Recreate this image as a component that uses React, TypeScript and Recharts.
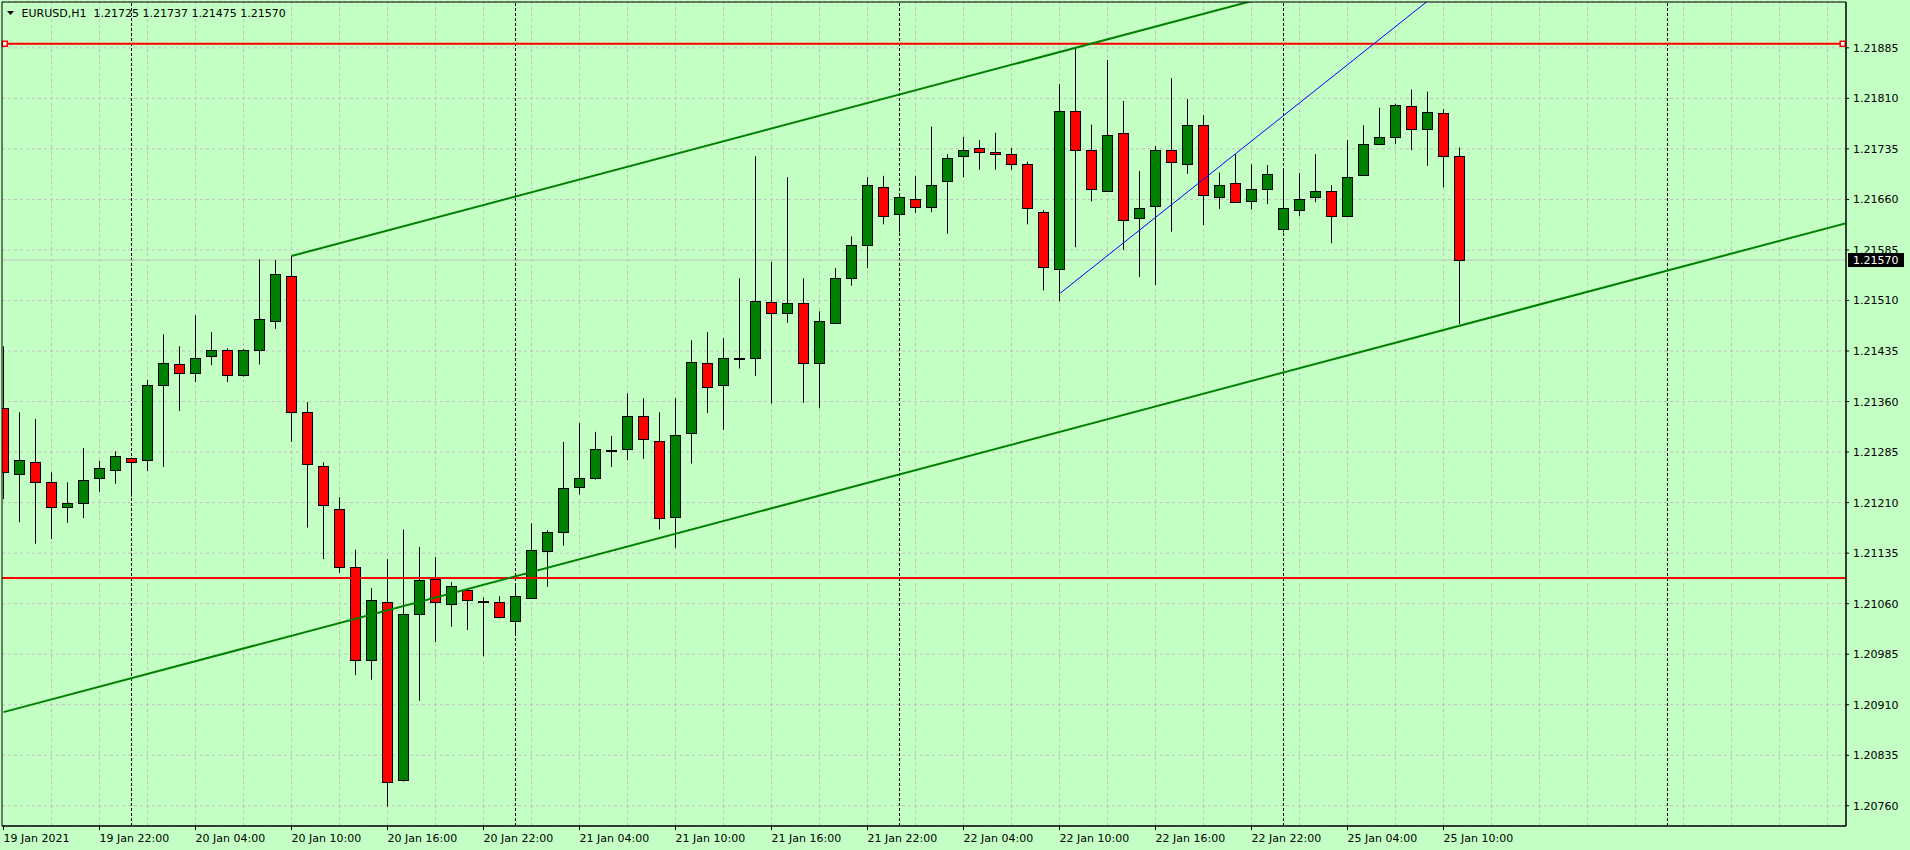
import React from "react";
import {
  ComposedChart,
  Bar,
  XAxis,
  YAxis,
  CartesianGrid,
  ReferenceLine,
  ReferenceArea,
  ReferenceDot,
} from "recharts";

// EURUSD H1, one entry per hourly bar, bar 0 = 19 Jan 16:00
const OPEN = [
  1.2135, 1.21253, 1.2127, 1.21241, 1.21204, 1.21209, 1.21246, 1.21259, 1.21276, 1.21273,
  1.21385, 1.21415, 1.21402, 1.21428, 1.21436, 1.21399, 1.21436, 1.2148, 1.21547, 1.21344,
  1.21264, 1.21201, 1.21114, 1.20976, 1.21062, 1.20798, 1.21045, 1.21096, 1.2106, 1.21081,
  1.21064, 1.21063, 1.21034, 1.21069, 1.21138, 1.21167, 1.21233, 1.21246, 1.21288, 1.2129,
  1.21338, 1.21301, 1.21188, 1.21313, 1.21417, 1.21384, 1.21425, 1.21425, 1.21507, 1.21492,
  1.21506, 1.21417, 1.21477, 1.21544, 1.21592, 1.21679, 1.21638, 1.21661, 1.21648, 1.21687,
  1.21724, 1.21736, 1.2173, 1.21728, 1.21713, 1.21642, 1.21556, 1.21791, 1.21733, 1.21673,
  1.21758, 1.21632, 1.2165, 1.21734, 1.21713, 1.2177, 1.21664, 1.21684, 1.21657, 1.21675,
  1.21616, 1.21644, 1.21664, 1.21672, 1.21636, 1.21696, 1.21742, 1.21753, 1.21798, 1.21765,
  1.21788, 1.21725,
];
const HIGH = [
  1.21442, 1.21344, 1.21334, 1.21255, 1.2124, 1.21291, 1.21272, 1.21286, 1.21277, 1.21392,
  1.2146, 1.21442, 1.21488, 1.21463, 1.21439, 1.21438, 1.21571, 1.2157, 1.21576, 1.21359,
  1.2127, 1.21218, 1.2114, 1.21083, 1.21126, 1.2117, 1.21144, 1.21129, 1.21092, 1.21083,
  1.21069, 1.21071, 1.21089, 1.21179, 1.21169, 1.213, 1.21328, 1.21315, 1.21309, 1.21372,
  1.21365, 1.21344, 1.21365, 1.21451, 1.21463, 1.21454, 1.21543, 1.21724, 1.21567, 1.21693,
  1.21543, 1.21494, 1.21558, 1.21605, 1.21693, 1.21695, 1.21669, 1.21695, 1.21768, 1.21727,
  1.21753, 1.21748, 1.21759, 1.21736, 1.21716, 1.21644, 1.21831, 1.21886, 1.21771, 1.21867,
  1.21806, 1.21702, 1.21739, 1.2184, 1.21809, 1.21785, 1.217, 1.21727, 1.21712, 1.21711,
  1.21704, 1.21699, 1.21727, 1.21681, 1.21748, 1.2177, 1.21796, 1.21802, 1.21823, 1.2182,
  1.21794, 1.21737,
];
const LOW = [
  1.21215, 1.21181, 1.21149, 1.21156, 1.2118, 1.21187, 1.21226, 1.21238, 1.21219, 1.21257,
  1.21263, 1.21346, 1.21389, 1.21414, 1.21389, 1.21397, 1.21415, 1.21468, 1.213, 1.21173,
  1.21126, 1.21106, 1.20954, 1.20947, 1.20759, 1.20796, 1.20916, 1.21003, 1.21026, 1.21021,
  1.20982, 1.21038, 1.21014, 1.21067, 1.21085, 1.21146, 1.21222, 1.21244, 1.21263, 1.21273,
  1.21275, 1.2117, 1.21143, 1.21268, 1.21343, 1.21318, 1.21409, 1.21398, 1.21357, 1.21477,
  1.21358, 1.2135, 1.21475, 1.21532, 1.21558, 1.21623, 1.21611, 1.2164, 1.21641, 1.21609,
  1.21693, 1.21704, 1.21704, 1.21704, 1.21623, 1.21525, 1.21509, 1.21589, 1.21657, 1.21672,
  1.21585, 1.21545, 1.21533, 1.21612, 1.21698, 1.21622, 1.21646, 1.21655, 1.21645, 1.21653,
  1.21611, 1.21635, 1.21656, 1.21595, 1.21635, 1.21695, 1.21741, 1.21742, 1.21733, 1.2171,
  1.21678, 1.21475,
];
const CLOSE = [
  1.21255, 1.21273, 1.2124, 1.21204, 1.2121, 1.21244, 1.21261, 1.21279, 1.2127, 1.21385,
  1.21417, 1.21402, 1.21425, 1.21437, 1.21399, 1.21436, 1.21482, 1.21549, 1.21344, 1.21267,
  1.21206, 1.21115, 1.20976, 1.21065, 1.20796, 1.21045, 1.21095, 1.21062, 1.21086, 1.21065,
  1.21064, 1.2104, 1.21071, 1.21139, 1.21167, 1.21231, 1.21246, 1.2129, 1.21288, 1.21338,
  1.21304, 1.21187, 1.21311, 1.21418, 1.21382, 1.21425, 1.21425, 1.21509, 1.21492, 1.21506,
  1.21417, 1.2148, 1.21544, 1.21592, 1.21681, 1.21635, 1.21664, 1.21648, 1.21682, 1.21722,
  1.21734, 1.2173, 1.21727, 1.21713, 1.21647, 1.21559, 1.21791, 1.21733, 1.21675, 1.21755,
  1.2163, 1.21647, 1.21733, 1.21715, 1.2177, 1.21666, 1.21682, 1.21656, 1.21675, 1.21697,
  1.21647, 1.21661, 1.21672, 1.21635, 1.21694, 1.21742, 1.21753, 1.218, 1.21764, 1.21789,
  1.21724, 1.2157,
];

// bar index of each time label (every 6 hours)
const LABEL_BARS = [0, 6, 12, 18, 24, 30, 36, 42, 48, 54, 60, 66, 72, 78, 84, 90];
const TIME_LABELS = [
  "19 Jan 2021", "19 Jan 22:00", "20 Jan 04:00", "20 Jan 10:00", "20 Jan 16:00", "20 Jan 22:00",
  "21 Jan 04:00", "21 Jan 10:00", "21 Jan 16:00", "21 Jan 22:00", "22 Jan 04:00", "22 Jan 10:00",
  "22 Jan 16:00", "22 Jan 22:00", "25 Jan 04:00", "25 Jan 10:00",
];
const PRICE_TICKS = [
  1.2076, 1.20835, 1.2091, 1.20985, 1.2106, 1.21135, 1.2121, 1.21285,
  1.2136, 1.21435, 1.2151, 1.21585, 1.2166, 1.21735, 1.2181, 1.21885,
];
const GRID_BARS = [
  3, 6, 9, 12, 15, 18, 21, 24, 27, 30, 33, 36, 39, 42, 45, 48, 51, 54, 57,
  60, 63, 66, 69, 72, 75, 78, 81, 84, 87, 90, 93, 96, 99, 102, 105, 108, 111, 114,
];
// midnight bars (period separators)
const DAY_BARS = [8, 32, 56, 80, 104];

const TITLE = "EURUSD,H1  1.21725 1.21737 1.21475 1.21570";
const LAST_PRICE = 1.2157;
const RESISTANCE = 1.21891;
const SUPPORT = 1.21098;
const CHANNEL_LOW = [{ x: 0, y: 1.20899 }, { x: 116, y: 1.2163 }];
const CHANNEL_HIGH = [{ x: 18, y: 1.21576 }, { x: 116, y: 1.22194 }];
const BLUE_LINE = [{ x: 66, y: 1.2152 }, { x: 100, y: 1.22162 }];
const HANDLE_BARS = [0.08, 114.95];

const X_MIN = -0.094;
const X_MAX = 115.156;
const Y_MIN = 1.2073;
const Y_MAX = 1.21953;

const BG = "#C4FFC4";
const GRID = "#C0C0C0";
const UP = "#008000";
const DOWN = "#FF0000";
const FONT = "DejaVu Sans";

const candles = OPEN.map((open, k) => ({
  k,
  open,
  high: HIGH[k],
  low: LOW[k],
  close: CLOSE[k],
  range: [LOW[k], HIGH[k]],
}));

function Candle(props: any) {
  const { x, y, width, height, payload } = props;
  if (!payload || x == null || y == null) return null;
  const top = Math.min(y, y + height);
  const h = Math.abs(height);
  const span = payload.high - payload.low;
  const pxPer = span > 0 ? h / span : 0;
  const wx = Math.floor(x + width / 2) + 0.5;
  const bTop = Math.round(top + (payload.high - Math.max(payload.open, payload.close)) * pxPer) + 0.5;
  const bBot = Math.round(top + (payload.high - Math.min(payload.open, payload.close)) * pxPer) + 0.5;
  const up = payload.close > payload.open;
  const doji = payload.close === payload.open;
  return (
    <g>
      <line x1={wx} x2={wx} y1={top} y2={top + h} stroke="#000" strokeWidth={1} />
      <rect
        x={wx - 5}
        y={bTop}
        width={10}
        height={Math.max(bBot - bTop, 1)}
        fill={doji ? "#000" : up ? UP : DOWN}
        stroke="#000"
        strokeWidth={1}
      />
    </g>
  );
}

function TimeTick({ x, y, payload }: any) {
  const i = LABEL_BARS.indexOf(payload.value);
  return (
    <text x={x} y={y} dy={10} fontSize={11} fontFamily={FONT} fill="#000" textAnchor="start">
      {TIME_LABELS[i]}
    </text>
  );
}

function PriceTick({ x, y, payload }: any) {
  return (
    <text x={x + 2} y={y} dy={4} fontSize={11} fontFamily={FONT} fill="#000" textAnchor="start">
      {Number(payload.value).toFixed(5)}
    </text>
  );
}

function PriceTag(props: any) {
  const vb = props.viewBox || {};
  const right = (vb.x || 0) + (vb.width || 0);
  const cy = vb.y || 0;
  return (
    <g>
      <rect x={right + 2} y={cy - 7} width={56} height={14} fill="#000" />
      <text x={right + 7} y={cy + 4} fontSize={11} fontFamily={FONT} fill="#fff">
        {LAST_PRICE.toFixed(5)}
      </text>
    </g>
  );
}

const Handle = (p: any) => (
  <rect x={p.cx - 2.5} y={p.cy - 2.5} width={5} height={5} fill="#fff" stroke={DOWN} strokeWidth={1.5} />
);

export default function App() {
  return (
    <div style={{ position: "absolute", left: 0, top: 0, width: 1910, height: 850, background: BG, fontFamily: FONT }}>
      <ComposedChart width={1910} height={850} data={candles} margin={{ top: 2, right: 0, bottom: 0, left: 2 }}>
        <CartesianGrid vertical={false} stroke={GRID} strokeDasharray="3 3" />
        <XAxis
          dataKey="k"
          type="number"
          domain={[X_MIN, X_MAX]}
          allowDataOverflow
          ticks={LABEL_BARS}
          interval={0}
          tick={<TimeTick />}
          tickSize={4}
          height={24}
          axisLine={{ stroke: "#000" }}
          tickLine={{ stroke: "#000" }}
        />
        <YAxis
          orientation="right"
          type="number"
          domain={[Y_MIN, Y_MAX]}
          allowDataOverflow
          ticks={PRICE_TICKS}
          interval={0}
          tick={<PriceTick />}
          tickSize={3}
          width={64}
          axisLine={{ stroke: "#000" }}
          tickLine={{ stroke: "#000" }}
        />
        {GRID_BARS.map((k) => (
          <ReferenceLine key={"g" + k} x={k} stroke={GRID} strokeDasharray="3 3" zIndex={-60} />
        ))}
        {DAY_BARS.map((k) => (
          <ReferenceLine key={"d" + k} x={k} stroke="#000" strokeDasharray="3 2" zIndex={-50} />
        ))}
        <ReferenceLine y={LAST_PRICE} stroke="#C0C0C0" zIndex={-40} label={<PriceTag />} />
        <Bar dataKey="range" barSize={10} shape={<Candle />} isAnimationActive={false} />
        <ReferenceLine y={SUPPORT} stroke={DOWN} strokeWidth={2} zIndex={1500} />
        <ReferenceLine y={RESISTANCE} stroke={DOWN} strokeWidth={2} zIndex={1500} />
        <ReferenceLine segment={CHANNEL_LOW} stroke={UP} strokeWidth={2} ifOverflow="hidden" zIndex={1500} />
        <ReferenceLine segment={CHANNEL_HIGH} stroke={UP} strokeWidth={2} ifOverflow="hidden" zIndex={1500} />
        <ReferenceLine segment={BLUE_LINE} stroke="#0000FF" strokeWidth={1} ifOverflow="hidden" zIndex={1500} />
        {HANDLE_BARS.map((k) => (
          <ReferenceDot key={"h" + k} x={k} y={RESISTANCE} shape={Handle} zIndex={1600} />
        ))}
        <ReferenceArea x1={X_MIN} x2={X_MAX} y1={Y_MIN} y2={Y_MAX} fill="none" stroke="#000" fillOpacity={0} zIndex={1700} />
      </ComposedChart>
      <svg width={400} height={22} style={{ position: "absolute", left: 0, top: 0, pointerEvents: "none" }}>
        <polygon points="7,11 14,11 10.5,15" fill="#000" />
        <text x={21.5} y={16.5} fontSize={11} fontFamily={FONT} fill="#000" style={{ whiteSpace: "pre" }}>
          {TITLE}
        </text>
      </svg>
    </div>
  );
}
